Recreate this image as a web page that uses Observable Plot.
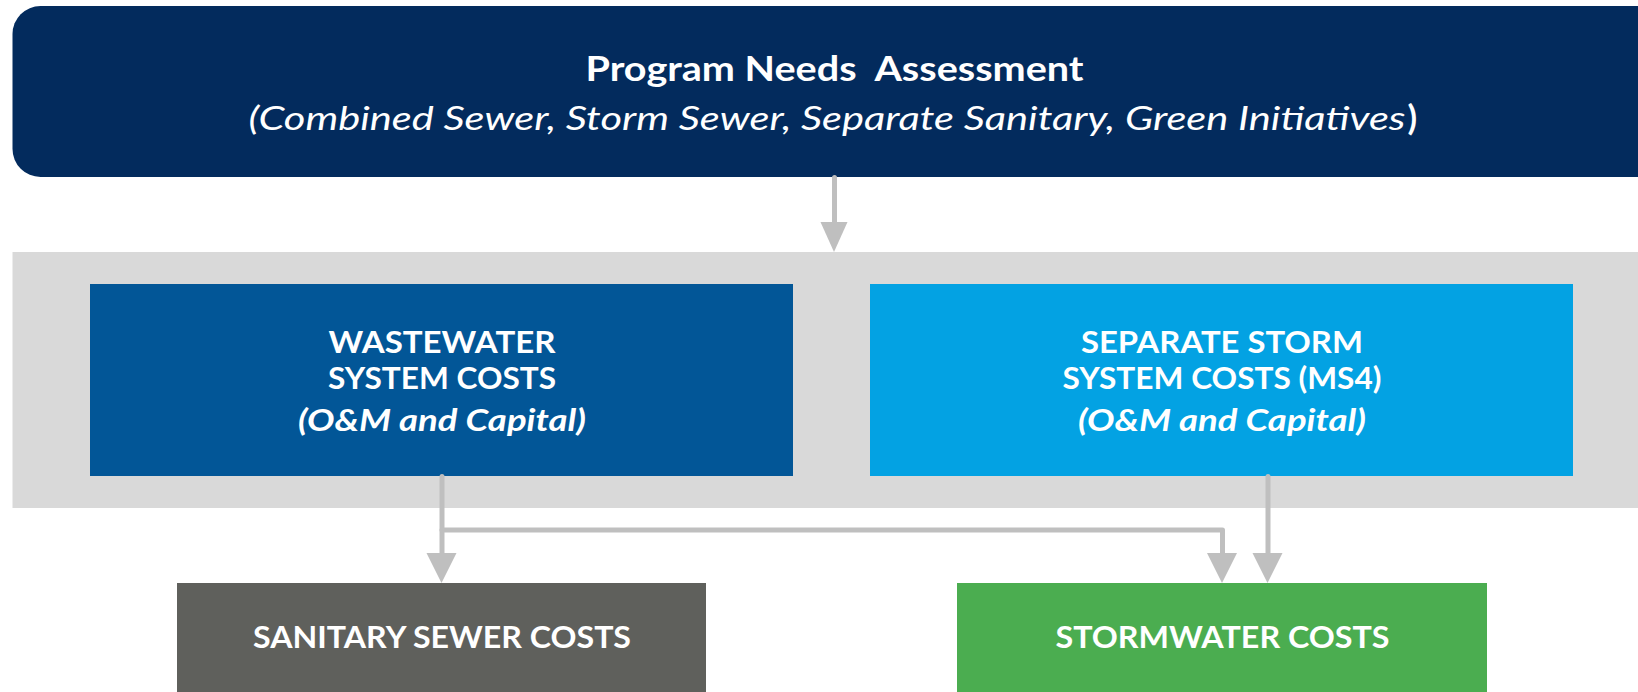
<!DOCTYPE html>
<html><head><meta charset="utf-8">
<script src="https://cdn.jsdelivr.net/npm/d3@7"></script>
<script src="https://cdn.jsdelivr.net/npm/@observablehq/plot@0.6"></script>
<style>html,body{margin:0;padding:0;background:#fff;overflow:hidden}</style>
</head><body><div id="chart"></div>
<script>
// ---- content ----
const headerTitle = "Program Needs  Assessment";
const headerSubtitle = "(Combined Sewer, Storm Sewer, Separate Sanitary, Green Initiatives";
const headerClose = ")";
const boxIds = ["wastewater", "storm", "sanitary", "stormwater"];
const boxLines = [["WASTEWATER", "SYSTEM COSTS"], ["SEPARATE STORM", "SYSTEM COSTS (MS4)"], ["SANITARY SEWER COSTS"], ["STORMWATER COSTS"]];
const boxSubLines = ["(O&M and Capital)", "(O&M and Capital)", null, null];
const flows = [["header", "group"], ["wastewater", "sanitary"], ["wastewater", "stormwater"], ["storm", "stormwater"]];

// ---- layout (pixel space) ----
const W = 1638, H = 692;
const layout = {
  header: {x1: 12.5, x2: 1700, y1: 6, y2: 177},
  group: {x1: 12.5, x2: 1700, y1: 252, y2: 508},
  wastewater: {x1: 90, x2: 793, y1: 284, y2: 476},
  storm: {x1: 870, x2: 1573, y1: 284, y2: 476},
  sanitary: {x1: 177, x2: 706, y1: 583, y2: 720},
  stormwater: {x1: 957, x2: 1487, y1: 583, y2: 720}
};
// rendered text widths (px) measured on the reference
const textWidths = {
  "Program Needs  Assessment": 498,
  "(Combined Sewer, Storm Sewer, Separate Sanitary, Green Initiatives": 1157,
  "WASTEWATER": 227, "SYSTEM COSTS": 228,
  "SEPARATE STORM": 282, "SYSTEM COSTS (MS4)": 319,
  "(O&M and Capital)": 288,
  "SANITARY SEWER COSTS": 378, "STORMWATER COSTS": 334
};
const colors = {header: "#032b5d", group: "#d9d9d9", wastewater: "#025697", storm: "#03a2e3", sanitary: "#5f605c", stormwater: "#4bad50"};
const arrowColor = "#bfbfbf";
const FONT = "Lato, 'Open Sans', sans-serif";

const rects = ["group", "wastewater", "storm", "sanitary", "stormwater"].map(id => ({id, ...layout[id]}));

// connectors
const wwX = 441.5, branchX = 1222, stX = 1267.5, topX = 834;
const paths = [
  {id: 0, pts: [[topX, 177], [topX, 224]]},
  {id: 1, pts: [[wwX, 476], [wwX, 555]]},
  {id: 2, pts: [[wwX, 529.5], [branchX, 529.5], [branchX, 555]]},
  {id: 3, pts: [[stX, 476], [stX, 555]]}
];
const lineData = paths.flatMap(p => p.pts.map(([x, y]) => ({id: p.id, x, y})));
const heads = [
  {id: 0, x: topX, top: 222, tip: 252, w: 27},
  {id: 1, x: wwX, top: 553, tip: 583, w: 30},
  {id: 2, x: branchX, top: 553, tip: 583, w: 30},
  {id: 3, x: stX, top: 553, tip: 583, w: 30}
];
const headData = heads.flatMap(h => [
  {id: h.id, y: h.top, x1: h.x - h.w / 2, x2: h.x + h.w / 2},
  {id: h.id, y: h.tip, x1: h.x, x2: h.x}
]);

// text
const fs = 30.5;
const mid = (b, f = fs) => b - 0.32 * f;
const plainTexts = [], italicTexts = [];
const baselines = [352, 388, 430];
boxIds.forEach((id, i) => {
  const L = layout[id], cx = (L.x1 + L.x2) / 2;
  if (boxSubLines[i]) {
    boxLines[i].forEach((t, k) => plainTexts.push({t, x: cx, y: mid(baselines[k])}));
    italicTexts.push({t: boxSubLines[i], x: cx, y: mid(baselines[2])});
  } else {
    plainTexts.push({t: boxLines[i][0], x: cx, y: mid(647)});
  }
});

const plot = Plot.plot({
  width: W, height: H, margin: 0,
  x: {domain: [0, W], range: [0, W], axis: null},
  y: {domain: [0, H], range: [0, H], axis: null},
  style: {fontFamily: FONT, background: "#fff"},
  marks: [
    Plot.rect([layout.header], {x1: "x1", x2: "x2", y1: "y1", y2: "y2", fill: colors.header, rx: 28}),
    Plot.rect(rects, {x1: "x1", x2: "x2", y1: "y1", y2: "y2", fill: d => colors[d.id]}),
    Plot.line(lineData, {x: "x", y: "y", z: "id", stroke: arrowColor, strokeWidth: 5, strokeLinejoin: "round", curve: "linear"}),
    Plot.areaX(headData, {y: "y", x1: "x1", x2: "x2", z: "id", fill: arrowColor, curve: "linear"}),
    Plot.text([headerTitle], {x: 834, y: mid(80, 35), text: d => d, fill: "#fff", fontSize: 35, fontWeight: "bold", fontFamily: FONT}),
    Plot.text([headerSubtitle], {x: 1405, y: mid(129.5, 33.5), text: d => d, fill: "#fff", fontSize: 33.5, fontStyle: "italic", textAnchor: "end", fontFamily: FONT}),
    Plot.text([headerClose], {x: 1407, y: mid(129.5, 33.5), text: d => d, fill: "#fff", fontSize: 35, fontWeight: "bold", textAnchor: "start", fontFamily: FONT}),
    Plot.text(plainTexts, {x: "x", y: "y", text: "t", fill: "#fff", fontSize: fs, fontWeight: "bold", fontFamily: FONT}),
    Plot.text(italicTexts, {x: "x", y: "y", text: "t", fill: "#fff", fontSize: fs, fontWeight: "bold", fontStyle: "italic", fontFamily: FONT})
  ]
});
// stretch text runs to the widths measured on the reference
d3.select(plot).selectAll("text").each(function () {
  const w = textWidths[this.textContent];
  if (w) {
    this.setAttribute("textLength", w);
    this.setAttribute("lengthAdjust", "spacingAndGlyphs");
  }
});
d3.select(plot).style("white-space", "pre");
document.getElementById("chart").appendChild(plot);
</script></body></html>
